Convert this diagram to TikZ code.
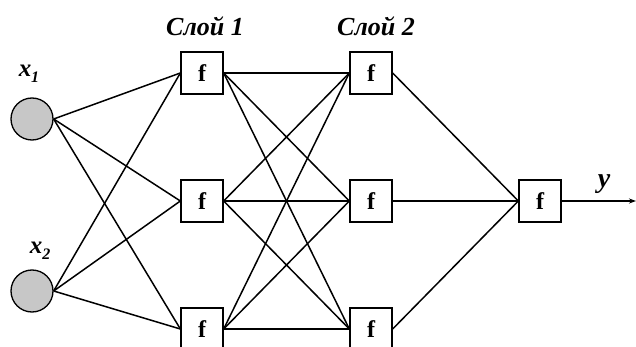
\documentclass[tikz,border=0pt]{standalone}
\usepackage{fontspec}
\setmainfont{Liberation Serif}
\usetikzlibrary{arrows.meta}
\begin{document}
\begin{tikzpicture}[x=1pt,y=-1pt,
  fbox/.style={draw,line width=1.3pt,minimum width=42pt,minimum height=42pt,inner sep=0pt,fill=white,font=\fontsize{24}{24}\selectfont\bfseries},
  inp/.style={circle,draw,line width=1.3pt,fill=black!22,minimum size=42pt,inner sep=0pt},
  conn/.style={line width=1.5pt},
  lbl/.style={font=\fontsize{26}{26}\selectfont\bfseries\itshape},
  xl/.style={font=\fontsize{25}{25}\selectfont\bfseries\itshape,inner sep=1pt}]
\useasboundingbox (0,0) rectangle (636,347);
\node[inp] (i1) at (32,119) {};
\node[inp] (i2) at (32,291) {};
\node[fbox] (a1) at (202,73) {f};
\node[fbox] (a2) at (202,201) {f};
\node[fbox] (a3) at (202,329) {f};
\node[fbox] (b1) at (371,73) {f};
\node[fbox] (b2) at (371,201) {f};
\node[fbox] (b3) at (371,329) {f};
\node[fbox] (o) at (540,201) {f};
\coordinate (end) at (636,201);
\foreach \i in {i1,i2}{\foreach \a in {a1,a2,a3}{\draw[conn] (\i.east) -- (\a.west);}}
\foreach \a in {a1,a2,a3}{\foreach \b in {b1,b2,b3}{\draw[conn] (\a.east) -- (\b.west);}}
\foreach \b in {b1,b2,b3}{\draw[conn] (\b.east) -- (o.west);}
\draw[conn,-{Stealth[length=7pt,width=5pt]}] (o.east) -- (end);
\node[lbl] (l1) at (205,26) {Слой 1};
\node[lbl] (l2) at (376,26) {Слой 2};
\node[xl] (x1) at (29,74) {x\raisebox{-6pt}{\fontsize{16}{16}\selectfont 1}};
\node[xl] (x2) at (40,251) {x\raisebox{-6pt}{\fontsize{16}{16}\selectfont 2}};
\node[font=\fontsize{28}{28}\selectfont\bfseries\itshape] (y) at (604,184) {y};
\end{tikzpicture}
\end{document}
